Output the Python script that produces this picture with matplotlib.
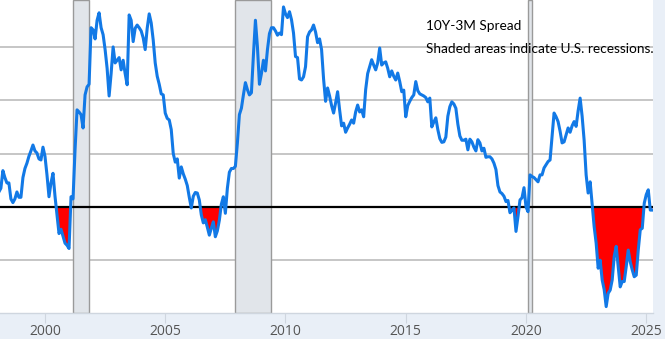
import numpy as np
import matplotlib
matplotlib.use("Agg")
import matplotlib.pyplot as plt
from matplotlib import font_manager

# Monthly 10Y-3M spread (percentage points), Jan 1998 .. Apr 2025
start_year = 1998
spread_1998 = [0.30, 0.28, 0.35, 0.68, 0.55, 0.45, 0.45, 0.15, 0.08, 0.15, 0.28, 0.18]
spread_1999 = [0.18, 0.55, 0.72, 0.82, 0.95, 1.05, 1.16, 1.05, 1.01, 0.90, 0.88, 1.12]
spread_2000 = [0.95, 0.60, 0.19, 0.45, 0.63, 0.20, -0.15, -0.50, -0.42, -0.55, -0.68, -0.72]
spread_2001 = [-0.78, 0.19, 0.15, 1.07, 1.82, 1.78, 1.73, 1.48, 2.10, 2.25, 2.30, 3.36]
spread_2002 = [3.32, 3.15, 3.50, 3.64, 3.36, 3.23, 2.95, 2.60, 2.08, 2.50, 3.00, 2.70]
spread_2003 = [2.75, 2.80, 2.57, 2.75, 2.50, 2.29, 3.60, 3.50, 3.10, 3.35, 3.41, 3.36]
spread_2004 = [3.30, 3.17, 2.95, 3.35, 3.62, 3.45, 3.13, 2.70, 2.45, 2.30, 2.12, 2.10]
spread_2005 = [1.76, 1.66, 1.63, 1.45, 1.00, 0.84, 0.90, 0.54, 0.75, 0.62, 0.52, 0.40]
spread_2006 = [0.18, -0.02, 0.20, 0.27, 0.26, 0.13, -0.15, -0.30, -0.24, -0.38, -0.53, -0.40]
spread_2007 = [-0.28, -0.56, -0.45, -0.25, 0.05, 0.19, -0.12, 0.35, 0.65, 0.72, 0.72, 0.76]
spread_2008 = [1.20, 1.73, 1.85, 2.10, 2.33, 2.20, 2.10, 2.14, 2.85, 3.50, 3.00, 2.30]
spread_2009 = [2.50, 2.75, 2.55, 2.95, 3.25, 3.36, 3.36, 3.30, 3.22, 3.26, 3.23, 3.75]
spread_2010 = [3.62, 3.55, 3.66, 3.51, 3.26, 2.82, 2.80, 2.40, 2.38, 2.44, 2.63, 3.19]
spread_2011 = [3.28, 3.32, 3.41, 3.28, 3.08, 3.15, 2.95, 2.40, 1.98, 2.23, 2.08, 1.90]
spread_2012 = [1.76, 1.95, 2.16, 1.82, 1.52, 1.57, 1.40, 1.48, 1.55, 1.63, 1.57, 1.78]
spread_2013 = [1.91, 1.78, 1.82, 1.69, 2.20, 2.50, 2.63, 2.76, 2.66, 2.57, 2.70, 2.98]
spread_2014 = [2.66, 2.70, 2.72, 2.60, 2.44, 2.55, 2.45, 2.38, 2.51, 2.35, 2.16, 2.19]
spread_2015 = [1.69, 1.90, 1.98, 2.05, 2.10, 2.35, 2.18, 2.12, 2.10, 2.08, 2.05, 1.97]
spread_2016 = [2.04, 1.50, 1.59, 1.67, 1.45, 1.28, 1.21, 1.22, 1.31, 1.70, 1.88, 1.97]
spread_2017 = [1.93, 1.85, 1.55, 1.33, 1.25, 1.25, 1.27, 1.07, 1.27, 1.22, 1.12, 1.05]
spread_2018 = [1.26, 1.20, 1.05, 1.10, 0.93, 0.94, 0.94, 0.90, 0.82, 0.70, 0.40, 0.28]
spread_2019 = [0.25, 0.20, 0.10, 0.12, -0.11, -0.06, -0.02, -0.46, -0.18, 0.13, 0.17, 0.36]
spread_2020 = [0.00, -0.09, 0.60, 0.57, 0.55, 0.51, 0.47, 0.60, 0.60, 0.73, 0.79, 0.85]
spread_2021 = [0.88, 1.32, 1.76, 1.69, 1.60, 1.42, 1.20, 1.22, 1.35, 1.48, 1.40, 1.52]
spread_2022 = [1.60, 1.51, 1.80, 2.04, 1.70, 1.25, 0.60, 0.26, 0.47, 0.04, -0.37, -0.68]
spread_2023 = [-1.15, -1.00, -1.37, -1.55, -1.87, -1.62, -1.56, -1.37, -0.93, -0.74, -1.12, -1.50]
spread_2024 = [-1.40, -1.40, -1.12, -0.81, -1.03, -1.18, -1.31, -1.28, -0.81, -0.43, -0.40, 0.07]
spread_2025 = [0.23, 0.32, -0.06, -0.06]

recession_starts = [2001 + 2/12, 2007 + 11/12, 2020 + 1/12]
recession_ends = [2001 + 10/12, 2009 + 5/12, 2020 + 3/12]

tick_years = [2000, 2005, 2010, 2015, 2020, 2025]
grid_levels = [-1, 1, 2, 3]

title_text = "10Y-3M Spread"
note_text = "Shaded areas indicate U.S. recessions."

spread = np.array(
    spread_1998 + spread_1999 + spread_2000 + spread_2001 + spread_2002 + spread_2003
    + spread_2004 + spread_2005 + spread_2006 + spread_2007 + spread_2008 + spread_2009
    + spread_2010 + spread_2011 + spread_2012 + spread_2013 + spread_2014 + spread_2015
    + spread_2016 + spread_2017 + spread_2018 + spread_2019 + spread_2020 + spread_2021
    + spread_2022 + spread_2023 + spread_2024 + spread_2025
)
dates = start_year + np.arange(len(spread)) / 12.0


def pick_font(candidates):
    for name in candidates:
        try:
            font_manager.findfont(font_manager.FontProperties(family=name),
                                  fallback_to_default=False)
            return name
        except Exception:
            continue
    return "DejaVu Sans"


note_font = pick_font(["Liberation Sans Narrow", "Lato", "Open Sans", "DejaVu Sans"])

BG = "#e9eff7"
fig = plt.figure(figsize=(6.65, 3.39), dpi=100, facecolor=BG)
ax = fig.add_axes([0, 26 / 339, 653 / 665, 313 / 339])
ax.set_facecolor("white")

for s, e in zip(recession_starts, recession_ends):
    ax.axvspan(s, e, facecolor="#e1e5ea", edgecolor="#9a9a9a", linewidth=1.0, zorder=1)

for g in grid_levels:
    ax.axhline(g, color="#c6c6c6", linewidth=1.4, zorder=0.5)

ax.fill_between(dates, spread, 0, where=spread < 0, interpolate=True,
                color="#ff0000", linewidth=0, zorder=2)
ax.axhline(0, color="black", linewidth=1.6, zorder=3)
ax.plot(dates, spread, color="#1279e6", linewidth=2.2, solid_joinstyle="round", zorder=4)

ax.set_xlim(1998.13, 2025.28)
ax.set_ylim(-1.99, 3.88)
ax.set_yticks([])
ax.set_xticks(tick_years)
ax.set_xticklabels([str(y) for y in tick_years], fontfamily="Open Sans", fontsize=10, color="#555555")
ax.tick_params(axis="x", length=7, width=0.8, color="#cfd6df", pad=1)
for side in ["left", "right", "top"]:
    ax.spines[side].set_visible(False)
ax.spines["bottom"].set_color("#cfd6df")
ax.spines["bottom"].set_linewidth(1.0)

t1 = fig.text(426 / 665, 1 - 26 / 339, title_text, fontfamily=note_font,
              fontsize=10.3, va="center", ha="left", color="black")
t2 = fig.text(426 / 665, 1 - 49 / 339, note_text, fontfamily=note_font,
              fontsize=10.3, va="center", ha="left", color="black")

# fit the note to the reference width (~226 px)
fig.canvas.draw()
w = t2.get_window_extent().width
scale = 226.0 / w
t1.set_fontsize(10.3 * scale)
t2.set_fontsize(10.3 * scale)

fig.savefig("out.png", dpi=100, facecolor=BG)
